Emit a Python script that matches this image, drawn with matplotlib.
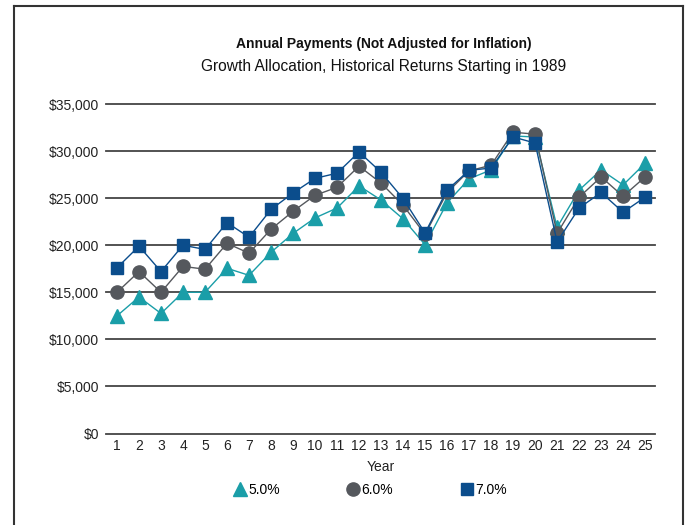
import matplotlib
matplotlib.use("Agg")
import matplotlib.pyplot as plt
from matplotlib.lines import Line2D

years = list(range(1, 26))
pay_5 = [12500, 14500, 12750, 15000, 15000, 17550, 16800, 19250, 21250, 22900,
         23950, 26300, 24800, 22800, 20050, 24500, 27050, 28000, 31600, 31500,
         21900, 25850, 28000, 26400, 28700]
pay_6 = [15000, 17200, 15000, 17750, 17450, 20200, 19150, 21700, 23600, 25300,
         26150, 28400, 26600, 24250, 21150, 25600, 27900, 28500, 32000, 31800,
         21250, 25100, 27250, 25200, 27250]
pay_7 = [17600, 19900, 17200, 20000, 19550, 22400, 20850, 23800, 25550, 27100,
         27650, 29900, 27750, 24950, 21300, 25850, 27950, 28200, 31500, 30850,
         20350, 23950, 25600, 23500, 25100]
labels = ["5.0%", "6.0%", "7.0%"]
yticks = [0, 5000, 10000, 15000, 20000, 25000, 30000, 35000]

c5 = "#1a9ea8"
c6 = "#55585d"
c7 = "#0b4d8c"

plt.rcParams['font.family'] = ['Liberation Sans', 'DejaVu Sans']

fig = plt.figure(figsize=(6.9, 5.25), dpi=100)
ax = fig.add_axes([106 / 690, 1 - 433.5 / 525, 549 / 690, 329.5 / 525])

ax.plot(years, pay_5, color=c5, lw=1, marker="^", ms=10, label=labels[0])
ax.plot(years, pay_6, color=c6, lw=1, marker="o", ms=9.5, label=labels[1])
ax.plot(years, pay_7, color=c7, lw=1, marker="s", ms=8.5, label=labels[2])

ax.set_xlim(0.5, 25.45)
ax.set_ylim(0, 35000)
ax.set_yticks(yticks)
ax.set_yticklabels(["$0"] + ["${:,}".format(v) for v in yticks[1:]])
ax.set_xticks(years)
ax.grid(axis="y", color="#444444", lw=1.3)
for gl in ax.get_ygridlines():
    gl.set_clip_on(False)
ax.set_axisbelow(True)
for s in ax.spines.values():
    s.set_visible(False)
ax.tick_params(axis="both", length=0, labelsize=10, colors="#222222")
ax.tick_params(axis="y", pad=5)
ax.tick_params(axis="x", pad=4)
ax.set_xlabel("Year", fontsize=10, color="#222222", labelpad=5)

fig.text(0.556, 1 - 44 / 525, "Annual Payments (Not Adjusted for Inflation)",
         ha="center", va="center", fontsize=10, fontweight="bold", color="#111111")
fig.text(0.556, 1 - 66 / 525, "Growth Allocation, Historical Returns Starting in 1989",
         ha="center", va="center", fontsize=11.2, color="#111111")

handles = [Line2D([], [], ls="none", marker=m, color=c, ms=s)
           for m, c, s in [("^", c5, 10), ("o", c6, 9.5), ("s", c7, 8.5)]]
fig.legend(handles, labels, loc="center", bbox_to_anchor=(0.536, 1 - 490 / 525),
           ncol=3, frameon=False, fontsize=10, handletextpad=0.1,
           columnspacing=4.8, handlelength=1.0)

# outer frame
for xs, ys in [([14 / 690, 14 / 690], [0, 1 - 6 / 525]),
               ([14 / 690, 683 / 690], [1 - 6 / 525, 1 - 6 / 525]),
               ([683 / 690, 683 / 690], [1 - 6 / 525, 0])]:
    fig.add_artist(Line2D(xs, ys, color="#333333", lw=1.5))

fig.savefig("out.png", dpi=100)
